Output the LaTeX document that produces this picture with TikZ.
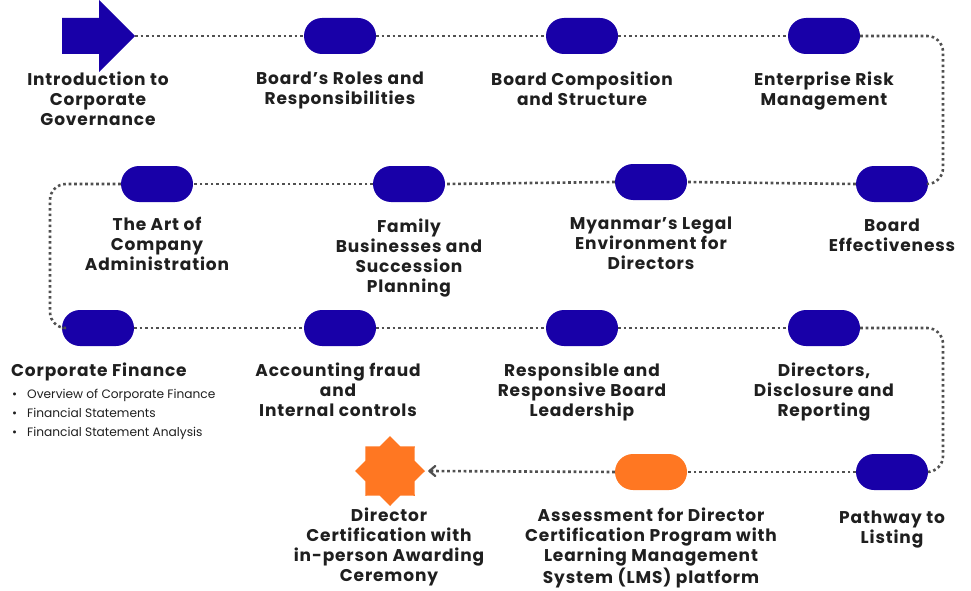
\documentclass[tikz,border=0pt]{standalone}
\usepackage{fontspec}
\setmainfont{Poppins}
\newfontfamily\headfont{Poppins}[LetterSpace=5.0]
\usetikzlibrary{shapes.geometric,arrows.meta}
\definecolor{navy}{HTML}{1800A8}
\definecolor{orng}{HTML}{FF7722}
\definecolor{ink}{HTML}{1F1F1F}
\definecolor{dotc}{HTML}{505050}
\tikzset{
  pill/.style={rectangle, rounded corners=18pt, minimum width=72pt, minimum height=36pt, inner sep=0pt, fill=navy},
  opill/.style={pill, fill=orng},
  lbl/.style={anchor=north, align=center, inner sep=0pt, text=ink, font=\headfont\fontsize{17}{20}\selectfont\bfseries},
  dots/.style={draw=dotc, line width=2.6pt, dash pattern=on 2.6pt off 2.9pt},
}
\begin{document}
\begin{tikzpicture}[x=1pt,y=-1pt]
\useasboundingbox (0,0) rectangle (971,591);
% start arrow
\fill[navy] (62,18) -- (99,18) -- (99,0) -- (135,36) -- (99,72) -- (99,54) -- (62,54) -- cycle;
\coordinate (a0) at (135,36);
% row 1
\node[pill] (p1) at (340,36) {};
\node[pill] (p2) at (582,36) {};
\node[pill] (p3) at (824,36) {};
% row 2
\node[pill] (p4) at (892,184) {};
\node[pill] (p5) at (651,182) {};
\node[pill] (p6) at (409,184) {};
\node[pill] (p7) at (157,184) {};
% row 3
\node[pill] (p8) at (98,328) {};
\node[pill] (p9) at (340,328) {};
\node[pill] (p10) at (582,328) {};
\node[pill] (p11) at (824,328) {};
% row 4
\node[pill] (p12) at (892,472) {};
\node[opill] (p13) at (651,472) {};
\node[star, star points=8, star point ratio=1.31, minimum size=70pt, inner sep=0pt, fill=orng] (st) at (390,471) {};
% corner coordinates
\coordinate (c1) at (943,36);
\coordinate (c2) at (943,184);
\coordinate (c3) at (50,184);
\coordinate (c4) at (50,328);
\coordinate (c5) at (943,328);
\coordinate (c6) at (943,472);
% connectors
\draw[dots] (a0) -- (p1.west);
\draw[dots] (p1.east) -- (p2.west);
\draw[dots] (p2.east) -- (p3.west);
\draw[dots, rounded corners=16pt] (p3.east) -- (c1) -- (c2) -- (p4.east);
\draw[dots] (p4.west) -- (p5.east);
\draw[dots] (p5.west) -- (p6.east);
\draw[dots] (p6.west) -- (p7.east);
\draw[dots, rounded corners=16pt] (p7.west) -- (c3) -- (c4) -- (p8.west);
\draw[dots] (p8.east) -- (p9.west);
\draw[dots] (p9.east) -- (p10.west);
\draw[dots] (p10.east) -- (p11.west);
\draw[dots, rounded corners=16pt] (p11.east) -- (c5) -- (c6) -- (p12.east);
\draw[dots] (p12.west) -- (p13.east);
\draw[dots] (p13.west) -- ([xshift=4pt]st.east);
\draw[dotc, line width=2.2pt, line cap=round, line join=round] ([xshift=10pt,yshift=-5pt]st.east) -- ([xshift=4pt]st.east) -- ([xshift=10pt,yshift=5pt]st.east);
% labels
\node[lbl] (t1) at (98,72) {Introduction to\\Corporate\\Governance};
\node[lbl] (t2) at (340,72) {Board’s Roles and\\Responsibilities};
\node[lbl] (t3) at (582,72) {Board Composition\\and Structure};
\node[lbl] (t4) at (824,72) {Enterprise Risk\\Management};
\node[lbl] (t5) at (157,217) {The Art of\\Company\\Administration};
\node[lbl] (t6) at (409,219) {Family\\Businesses and\\Succession\\Planning};
\node[lbl] (t7) at (651,217) {Myanmar’s Legal\\Environment for\\Directors};
\node[lbl] (t8) at (892,219) {Board\\Effectiveness};
\node[lbl, anchor=north west, align=left] (t9) at (11,363) {Corporate Finance};
\node[anchor=north west, align=left, inner sep=0pt, text=ink, font=\fontsize{12.2}{19.2}\selectfont] (t9b) at (12,389) {\textbullet\hspace{10pt}Overview of Corporate Finance\\\textbullet\hspace{10pt}Financial Statements\\\textbullet\hspace{10pt}Financial Statement Analysis};
\node[lbl] (t10) at (338,363) {Accounting fraud\\and\\Internal controls};
\node[lbl] (t11) at (582,363) {Responsible and\\Responsive Board\\Leadership};
\node[lbl] (t12) at (824,363) {Directors,\\Disclosure and\\Reporting};
\node[lbl] (t13) at (389,508) {Director\\Certification with\\in-person Awarding\\Ceremony};
\node[lbl] (t14) at (651,508) {Assessment for Director\\Certification Program with\\Learning Management\\System (LMS) platform};
\node[lbl] (t15) at (892,511) {Pathway to\\Listing};
\end{tikzpicture}
\end{document}
